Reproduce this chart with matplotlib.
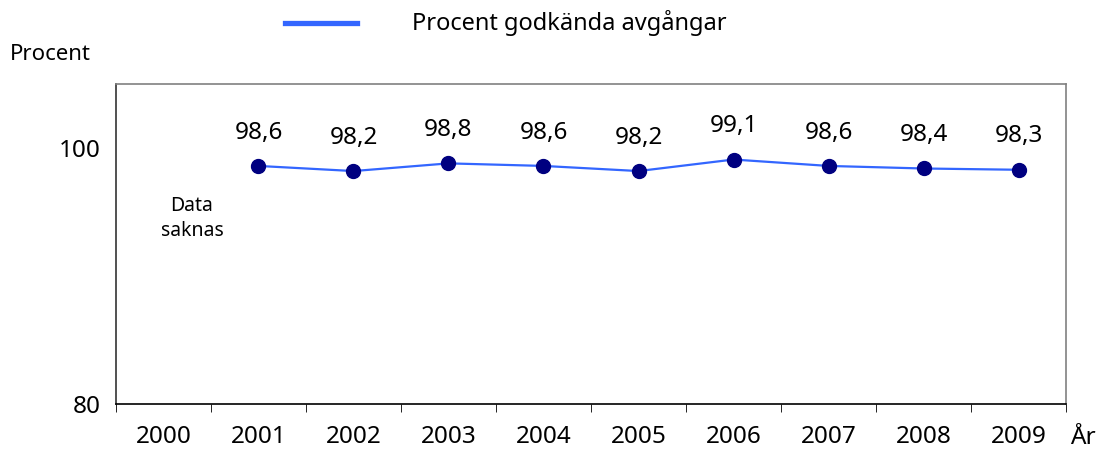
import numpy as np
import matplotlib
matplotlib.use('Agg')
import matplotlib.pyplot as plt

plt.rcParams['font.family'] = ['Noto Sans', 'DejaVu Sans']

# years on the x axis, 2000 has no data
years = ['2000', '2001', '2002', '2003', '2004', '2005', '2006', '2007', '2008', '2009']
pct_years = ['2001', '2002', '2003', '2004', '2005', '2006', '2007', '2008', '2009']
pct_ok = [98.6, 98.2, 98.8, 98.6, 98.2, 99.1, 98.6, 98.4, 98.3]

fig = plt.figure(figsize=(10.98, 4.5), dpi=100)
ax = fig.add_axes([0.1056, 0.1022, 0.8653, 0.7111])

xpos = [years.index(y) for y in pct_years]
line, = ax.plot(xpos, pct_ok, color='#3366ff', lw=1.6, marker='o', ms=10,
                mfc='#000080', mec='#000080', zorder=3)

# value labels above each point
for x, v in zip(xpos, pct_ok):
    ax.annotate(('%.1f' % v).replace('.', ','), (x, v), xytext=(0, 24),
                textcoords='offset points', ha='center', va='center', fontsize=17.5)

ax.text(years.index('2000') + 0.3, 94.5, 'Data\nsaknas', ha='center', va='center',
        fontsize=14, linespacing=1.3)

ax.set_xlim(-0.5, len(years) - 0.5)
ax.set_ylim(80, 105)

# year labels in the middle of each category, tick marks on the boundaries
ax.set_xticks(range(len(years)))
ax.set_xticklabels(years, fontsize=17.5)
ax.set_xticks(np.arange(-0.5, len(years)), minor=True)
ax.tick_params(axis='x', which='major', length=0, pad=15)
ax.tick_params(axis='x', which='minor', length=6, direction='out', color='black')

ax.set_yticks([80, 100])
ax.set_yticklabels(['80', '100'], fontsize=17.5)
ax.tick_params(axis='y', length=0, pad=11)

ax.spines['left'].set_color('#333333')
ax.spines['bottom'].set_color('black')
ax.spines['top'].set_color('#808080')
ax.spines['right'].set_color('#808080')
for s in ax.spines.values():
    s.set_linewidth(1.2)

fig.text(10 / 1098, 1 - 55 / 450, 'Procent', fontsize=16, va='center', ha='left')
fig.text(1070 / 1098, 1 - 438 / 450, 'År', fontsize=17.5, va='center', ha='left')

# legend drawn as a short line with text at the top
fig.add_artist(plt.Line2D([285 / 1098, 357 / 1098], [1 - 23 / 450, 1 - 23 / 450],
                          color='#3366ff', lw=3.8, transform=fig.transFigure))
fig.text(412 / 1098, 1 - 23 / 450, 'Procent godkända avgångar', fontsize=17,
         va='center', ha='left')

fig.savefig('out.png', dpi=100)
plt.close()
